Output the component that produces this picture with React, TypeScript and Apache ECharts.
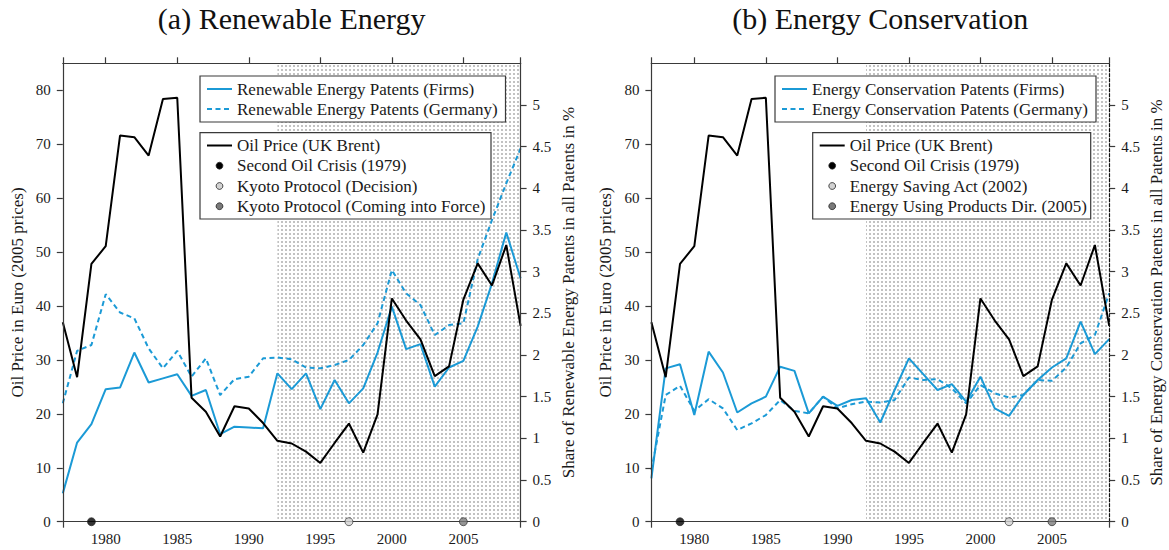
import React, { useEffect, useRef } from "react";
import * as echarts from "echarts";

const years = [1977, 1978, 1979, 1980, 1981, 1982, 1983, 1984, 1985, 1986, 1987, 1988, 1989, 1990, 1991, 1992, 1993, 1994, 1995, 1996, 1997, 1998, 1999, 2000, 2001, 2002, 2003, 2004, 2005, 2006, 2007, 2008, 2009];

const oilPrice = [37.0, 26.8, 47.8, 51.1, 71.6, 71.3, 67.9, 78.4, 78.6, 23.0, 20.4, 15.8, 21.4, 21.0, 18.3, 15.0, 14.5, 13.0, 10.9, 14.6, 18.2, 12.8, 19.9, 41.4, 37.3, 33.8, 27.0, 28.8, 41.2, 47.9, 43.8, 51.3, 36.3];

const renewableFirms = [0.34, 0.95, 1.17, 1.59, 1.61, 2.03, 1.67, 1.72, 1.77, 1.51, 1.58, 1.05, 1.14, 1.13, 1.12, 1.78, 1.59, 1.78, 1.35, 1.7, 1.42, 1.6, 2.03, 2.58, 2.07, 2.13, 1.62, 1.85, 1.93, 2.34, 2.86, 3.47, 2.92];
const renewableGermany = [1.42, 2.05, 2.12, 2.73, 2.51, 2.44, 2.08, 1.84, 2.05, 1.74, 1.96, 1.52, 1.71, 1.74, 1.96, 1.97, 1.95, 1.85, 1.84, 1.88, 1.94, 2.12, 2.38, 3.02, 2.74, 2.6, 2.24, 2.36, 2.38, 3.15, 3.62, 4.06, 4.48];

const conservationFirms = [0.52, 1.84, 1.89, 1.28, 2.04, 1.79, 1.31, 1.42, 1.5, 1.86, 1.81, 1.3, 1.5, 1.39, 1.46, 1.48, 1.19, 1.58, 1.96, 1.77, 1.58, 1.65, 1.44, 1.74, 1.36, 1.27, 1.52, 1.7, 1.85, 1.96, 2.4, 2.01, 2.19];
const conservationGermany = [0.62, 1.52, 1.63, 1.33, 1.47, 1.36, 1.1, 1.18, 1.28, 1.46, 1.33, 1.3, 1.5, 1.36, 1.41, 1.44, 1.43, 1.46, 1.73, 1.7, 1.71, 1.6, 1.42, 1.64, 1.54, 1.49, 1.52, 1.7, 1.69, 1.85, 2.14, 2.24, 2.74];

const oilTicks = [0, 10, 20, 30, 40, 50, 60, 70, 80];
const shareTicks = [0, 0.5, 1, 1.5, 2, 2.5, 3, 3.5, 4, 4.5, 5];
const yearLabels = [1980, 1985, 1990, 1995, 2000, 2005];
const shadedPeriod = [1992, 2009];

const eventsA = [
  { name: "Second Oil Crisis (1979)", year: 1979 },
  { name: "Kyoto Protocol (Decision)", year: 1997 },
  { name: "Kyoto Protocol (Coming into Force)", year: 2005 },
];
const eventsB = [
  { name: "Second Oil Crisis (1979)", year: 1979 },
  { name: "Energy Saving Act (2002)", year: 2002 },
  { name: "Energy Using Products Dir. (2005)", year: 2005 },
];
const eventColors = ["#000000", "#d2d2d2", "#7a7a7a"];

const BLUE = "#1b9ad6";
const AX = "#3a3a3a";
const TXT = "#1a1a1a";
const FONT = '"Liberation Serif", "Times New Roman", serif';

function makePattern() {
  const c = document.createElement("canvas");
  c.width = 4;
  c.height = 4;
  const ctx = c.getContext("2d")!;
  ctx.fillStyle = "#ffffff";
  ctx.fillRect(0, 0, 4, 4);
  ctx.fillStyle = "#c2c2c2";
  ctx.fillRect(1, 1, 2, 2);
  return { image: c.toDataURL(), repeat: "repeat", imageWidth: 4, imageHeight: 4 } as any;
}

function legendEls(
  x1: number,
  w1: number,
  x2: number,
  w2: number,
  firmsLabel: string,
  germanyLabel: string,
  events: { name: string }[]
) {
  const els: any[] = [];
  const font = { fontFamily: FONT, fontSize: 17, fill: TXT, verticalAlign: "middle" };
  els.push({ type: "rect", z: 20, shape: { x: x1, y: 76, width: w1, height: 46 }, style: { fill: "#fff", stroke: AX, lineWidth: 1.2 } });
  els.push({ type: "line", z: 21, shape: { x1: x1 + 7, y1: 89, x2: x1 + 32, y2: 89 }, style: { stroke: BLUE, lineWidth: 2 } });
  els.push({ type: "line", z: 21, shape: { x1: x1 + 7, y1: 109, x2: x1 + 32, y2: 109 }, style: { stroke: BLUE, lineWidth: 2, lineDash: [5, 3.5] } });
  els.push({ type: "text", z: 21, x: x1 + 37, y: 89, style: { ...font, text: firmsLabel } });
  els.push({ type: "text", z: 21, x: x1 + 37, y: 109, style: { ...font, text: germanyLabel } });

  const rows = [145.5, 165.7, 186, 206.2];
  els.push({ type: "rect", z: 20, shape: { x: x2, y: 132.7, width: w2, height: 86.3 }, style: { fill: "#fff", stroke: AX, lineWidth: 1.2 } });
  els.push({ type: "line", z: 21, shape: { x1: x2 + 7, y1: rows[0], x2: x2 + 32, y2: rows[0] }, style: { stroke: "#000", lineWidth: 2 } });
  els.push({ type: "text", z: 21, x: x2 + 37, y: rows[0], style: { ...font, text: "Oil Price (UK Brent)" } });
  events.forEach((e, k) => {
    els.push({ type: "circle", z: 21, shape: { cx: x2 + 19.5, cy: rows[k + 1], r: 3.4 }, style: { fill: eventColors[k], stroke: "#222", lineWidth: 0.8 } });
    els.push({ type: "text", z: 21, x: x2 + 37, y: rows[k + 1], style: { ...font, text: e.name } });
  });
  return els;
}

function buildPanel(
  i: number,
  firms: number[],
  germany: number[],
  events: { name: string; year: number }[],
  shareName: string,
  rightDashed: boolean,
  pattern: any
) {
  const axisLine = { show: true, onZero: false, lineStyle: { color: AX, width: 1.2 } };
  const tickLine = { color: AX, width: 1.2 };
  const labelStyle = { fontFamily: FONT, fontSize: 15, color: TXT };
  const nameStyle = { fontFamily: FONT, fontSize: 17, color: TXT };

  const xAxes = [
    {
      gridIndex: i,
      type: "value",
      position: "bottom",
      min: 1977,
      max: 2009,
      z: 4,
      axisLine,
      axisTick: { show: true, customValues: [1977, 2009], length: 6, lineStyle: tickLine },
      axisLabel: { ...labelStyle, customValues: yearLabels, margin: 10, formatter: (v: number) => String(v) },
      splitLine: { show: false },
    },
    {
      gridIndex: i,
      type: "value",
      position: "top",
      min: 1977,
      max: 2009,
      z: 4,
      axisLine,
      axisTick: { show: true, customValues: [1977, ...yearLabels, 2009], length: 6, lineStyle: tickLine },
      axisLabel: { show: false },
      splitLine: { show: false },
    },
  ];
  const yAxes = [
    {
      gridIndex: i,
      type: "value",
      position: "left",
      min: 0,
      max: 85,
      z: 4,
      axisLine,
      axisTick: { show: true, customValues: oilTicks, length: 6, lineStyle: tickLine },
      axisLabel: { ...labelStyle, customValues: oilTicks, margin: 12 },
      splitLine: { show: false },
      name: "Oil Price in Euro (2005 prices)",
      nameLocation: "middle",
      nameGap: 37,
      nameTextStyle: nameStyle,
    },
    {
      gridIndex: i,
      type: "value",
      position: "right",
      min: 0,
      max: 5.5,
      z: 4,
      axisLine: {
        show: true,
        onZero: false,
        lineStyle: { color: rightDashed ? "#111" : AX, width: 1.2, type: rightDashed ? [3, 2] : "solid" },
      },
      axisTick: { show: true, customValues: shareTicks, length: 6, lineStyle: tickLine },
      axisLabel: { ...labelStyle, customValues: shareTicks, margin: 12 },
      splitLine: { show: false },
      name: shareName,
      nameLocation: "middle",
      nameGap: 39,
      nameTextStyle: nameStyle,
    },
  ];
  const xi = 2 * i;
  const series = [
    {
      type: "line",
      xAxisIndex: xi,
      yAxisIndex: xi,
      data: [],
      z: 1,
      silent: true,
      markArea: {
        silent: true,
        itemStyle: { color: pattern, borderWidth: 0 },
        data: [[{ xAxis: shadedPeriod[0] }, { xAxis: shadedPeriod[1] }]],
      },
    },
    {
      type: "line",
      xAxisIndex: xi,
      yAxisIndex: xi + 1,
      data: years.map((y, k) => [y, firms[k]]),
      symbol: "none",
      z: 3,
      lineStyle: { color: BLUE, width: 2 },
      itemStyle: { color: BLUE },
    },
    {
      type: "line",
      xAxisIndex: xi,
      yAxisIndex: xi + 1,
      data: years.map((y, k) => [y, germany[k]]),
      symbol: "none",
      z: 3,
      lineStyle: { color: BLUE, width: 2, type: [5, 3.5] },
      itemStyle: { color: BLUE },
    },
    {
      type: "line",
      xAxisIndex: xi,
      yAxisIndex: xi,
      data: years.map((y, k) => [y, oilPrice[k]]),
      symbol: "none",
      z: 3,
      lineStyle: { color: "#000", width: 2 },
      itemStyle: { color: "#000" },
    },
    {
      type: "scatter",
      xAxisIndex: xi,
      yAxisIndex: xi,
      clip: false,
      z: 6,
      symbolSize: 8,
      data: events.map((e, k) => ({ value: [e.year, 0], itemStyle: { color: eventColors[k] } })),
      itemStyle: { borderColor: "#222", borderWidth: 0.8 },
    },
  ];
  return { xAxes, yAxes, series };
}

export default function App() {
  const ref = useRef<HTMLDivElement>(null);
  useEffect(() => {
    if (!ref.current) return;
    const chart = echarts.init(ref.current, undefined, { renderer: "svg" });
    const pattern = makePattern();
    const a = buildPanel(0, renewableFirms, renewableGermany, eventsA, "Share of Renewable Energy Patents in all Patents in %", false, pattern);
    const b = buildPanel(1, conservationFirms, conservationGermany, eventsB, "Share of Energy Conservation Patents in all Patents in %", true, pattern);
    const titleStyle = { fontFamily: FONT, fontSize: 30, fill: "#111", align: "center", verticalAlign: "middle" };
    chart.setOption({
      animation: false,
      grid: [
        { left: 62.8, top: 63.3, width: 457.8, height: 458.4 },
        { left: 651.4, top: 63.3, width: 457.8, height: 458.4 },
      ],
      xAxis: [...a.xAxes, ...b.xAxes],
      yAxis: [...a.yAxes, ...b.yAxes],
      series: [...a.series, ...b.series],
      graphic: {
        elements: [
          { type: "text", x: 291.7, y: 18, style: { ...titleStyle, text: "(a) Renewable Energy" } },
          { type: "text", x: 880.3, y: 18, style: { ...titleStyle, text: "(b) Energy Conservation" } },
          ...legendEls(200, 305.5, 200, 291, "Renewable Energy Patents (Firms)", "Renewable Energy Patents (Germany)", eventsA),
          ...legendEls(775, 321, 812.7, 278, "Energy Conservation Patents (Firms)", "Energy Conservation Patents (Germany)", eventsB),
        ],
      },
    });
    return () => chart.dispose();
  }, []);
  return <div ref={ref} style={{ position: "fixed", left: 0, top: 0, width: 1169, height: 550, background: "#fff" }} />;
}
